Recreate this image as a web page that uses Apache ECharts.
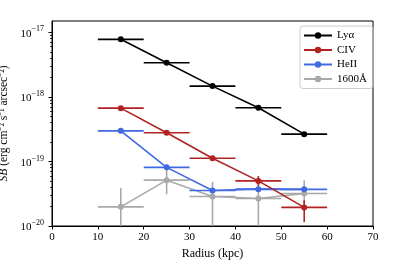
<!DOCTYPE html>
<html><head><meta charset="utf-8">
<script src="https://cdn.jsdelivr.net/npm/echarts@6/dist/echarts.min.js"></script>
<style>html,body{margin:0;padding:0;background:#fff}#c{width:415px;height:263px}</style>
</head><body><div id="c"></div>
<script>
// Data
const radius = [15, 25, 35, 45, 55];
const radiusErr = [5, 5, 5, 5, 5];
const lya = [7.8e-18, 3.38e-18, 1.47e-18, 6.8e-19, 2.65e-19];
const lyaLo = [7.5e-18, 3.25e-18, 1.41e-18, 6.5e-19, 2.52e-19];
const lyaHi = [8.1e-18, 3.5e-18, 1.53e-18, 7.1e-19, 2.78e-19];
const civ = [6.7e-19, 2.78e-19, 1.12e-19, 5.0e-20, 1.94e-20];
const civLo = [6.3e-19, 2.6e-19, 1.03e-19, 4.2e-20, 1.15e-20];
const civHi = [7.1e-19, 2.96e-19, 1.21e-19, 5.9e-20, 2.5e-20];
const heii = [2.98e-19, 8.1e-20, 3.55e-20, 3.72e-20, 3.7e-20];
const heiiLo = [2.8e-19, 7.3e-20, 3.3e-20, 3.4e-20, 3.4e-20];
const heiiHi = [3.16e-19, 8.9e-20, 3.8e-20, 4.05e-20, 4.0e-20];
const uv = [1.98e-20, 5.13e-20, 2.87e-20, 2.67e-20, 3.19e-20];
const uvLo = [1e-21, 3.1e-20, 1e-21, 1e-21, 2.2e-20];
const uvHi = [3.9e-20, 8.8e-20, 4.83e-20, 5.9e-20, 5.1e-20];
const seriesNames = ['Lyα', 'CIV', 'HeII', '1600Å'];
const xTicks = [0, 10, 20, 30, 40, 50, 60, 70];
const yMajorTicks = [1e-20, 1e-19, 1e-18, 1e-17];
const yMajorLabels = ['−20', '−19', '−18', '−17'];
const yMinorTicks = [2e-20,3e-20,4e-20,5e-20,6e-20,7e-20,8e-20,9e-20,
  2e-19,3e-19,4e-19,5e-19,6e-19,7e-19,8e-19,9e-19,
  2e-18,3e-18,4e-18,5e-18,6e-18,7e-18,8e-18,9e-18];

const colors = ['#000000', '#b22222', '#4169e1', '#a9a9a9'];
const sets = [[lya, lyaLo, lyaHi], [civ, civLo, civHi], [heii, heiiLo, heiiHi], [uv, uvLo, uvHi]];
const FONT = 'Liberation Serif';

function errData(vals, lo, hi) {
  return radius.map((x, i) => [x, vals[i], x - radiusErr[i], x + radiusErr[i], lo[i], hi[i]]);
}
function makeErr(color) {
  return function (params, api) {
    const x = api.value(0), y = api.value(1);
    const pL = api.coord([api.value(2), y]);
    const pR = api.coord([api.value(3), y]);
    const pB = api.coord([x, api.value(4)]);
    const pT = api.coord([x, api.value(5)]);
    const st = { stroke: color, lineWidth: 1.6 };
    return { type: 'group', children: [
      { type: 'line', shape: { x1: pL[0], y1: pL[1], x2: pR[0], y2: pR[1] }, style: st },
      { type: 'line', shape: { x1: pB[0], y1: pB[1], x2: pT[0], y2: pT[1] }, style: st }
    ]};
  };
}

const series = [];
[0, 1, 2, 3].forEach((k) => {
  const z = 2 + (3 - k) * 2;
  series.push({
    type: 'line', name: seriesNames[k], data: radius.map((x, i) => [x, sets[k][0][i]]),
    symbol: 'circle', symbolSize: 6, showSymbol: true,
    lineStyle: { color: colors[k], width: 1.6 }, itemStyle: { color: colors[k] },
    z: z + 1, clip: true
  });
});
[3, 2, 1, 0].forEach((k) => {
  const z = 2 + (3 - k) * 2;
  series.push({
    type: 'custom', name: 'err-' + seriesNames[k], renderItem: makeErr(colors[k]),
    data: errData(sets[k][0], sets[k][1], sets[k][2]), clip: true, z: z,
    encode: { x: 0, y: 1 }, silent: true
  });
});

const chart = echarts.init(document.getElementById('c'), null, { renderer: 'canvas' });
chart.setOption({
  animation: false,
  color: colors,
  grid: { left: 52, right: 42, top: 21, bottom: 37, show: true, borderColor: '#000', borderWidth: 1, backgroundColor: 'transparent', outerBoundsMode: 'none', containLabel: false },
  legend: {
    data: seriesNames,
    orient: 'vertical', left: 300, top: 26, itemWidth: 28, itemHeight: 8, itemGap: 3.5,
    padding: [4, 6, 4, 3], borderColor: '#cccccc', borderWidth: 1, borderRadius: 3,
    textStyle: { fontFamily: FONT, fontSize: 11, color: '#000' },
    selectedMode: false
  },
  xAxis: {
    type: 'value', min: 0, max: 70, interval: 10,
    name: 'Radius (kpc)', nameLocation: 'middle', nameGap: 21,
    nameTextStyle: { fontFamily: FONT, fontSize: 12, color: '#000' },
    axisLine: { lineStyle: { color: '#000', width: 1 } },
    axisTick: { length: 3.5, lineStyle: { color: '#000', width: 1 } },
    axisLabel: { fontFamily: FONT, fontSize: 11, color: '#000', margin: 6, customValues: xTicks },
    splitLine: { show: false }
  },
  yAxis: [{
    type: 'log', logBase: 10, min: 1e-20, max: 1.5e-17,
    name: '{i|SB} (erg cm⁻² s⁻¹ arcsec⁻²)', nameLocation: 'middle', nameGap: 39,
    nameTextStyle: { fontFamily: FONT, fontSize: 11.5, color: '#000', rich: { i: { fontFamily: FONT, fontStyle: 'italic', fontSize: 11.5 } } },
    axisLine: { lineStyle: { color: '#000', width: 1 } },
    axisTick: { length: 3.5, lineStyle: { color: '#000', width: 1 }, customValues: yMajorTicks },
    axisLabel: {
      customValues: yMajorTicks, margin: 8,
      formatter: function (v) {
        const e = Math.round(Math.log10(v));
        const idx = yMajorTicks.findIndex(t => Math.abs(Math.log10(t) - e) < 1e-6);
        return '{b|10}{e|' + yMajorLabels[idx] + '}';
      },
      rich: {
        b: { fontFamily: FONT, fontSize: 11, color: '#000', verticalAlign: 'bottom', lineHeight: 14 },
        e: { fontFamily: FONT, fontSize: 8, color: '#000', verticalAlign: 'top', lineHeight: 14, padding: [0, 0, 6, 0] }
      }
    },
    splitLine: { show: false }
  }, {
    type: 'log', logBase: 10, min: 1e-20, max: 1.5e-17, position: 'left',
    axisLine: { show: false },
    axisTick: { show: true, length: 2, lineStyle: { color: '#000', width: 0.8 }, customValues: yMinorTicks },
    axisLabel: { show: false },
    splitLine: { show: false }
  }],
  series: series
});
</script></body></html>
